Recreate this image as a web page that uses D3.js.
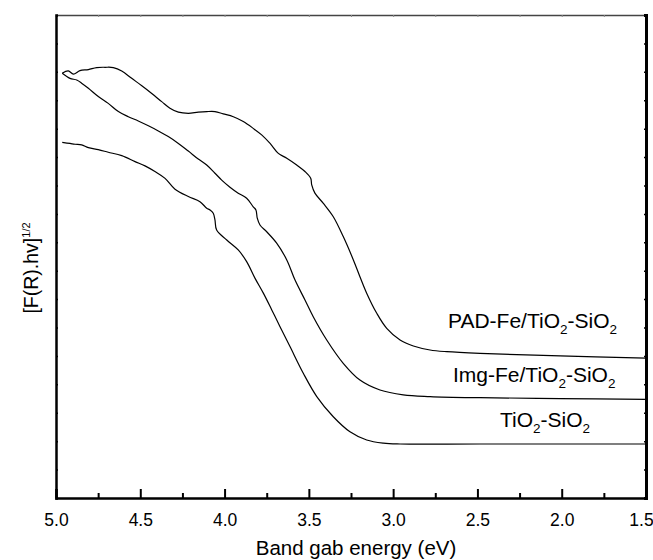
<!DOCTYPE html>
<html>
<head>
<meta charset="utf-8">
<script src="https://cdn.jsdelivr.net/npm/d3@7"></script>
<style>
  body { margin: 0; background: #fff; }
  svg { display: block; font-family: "Liberation Sans", Arial, sans-serif; }
</style>
</head>
<body>
<svg id="chart" width="653" height="560"></svg>
<script>
// photon energy (eV) and [F(R).hv]^1/2, arbitrary units
var padEnergy = [4.963, 4.927, 4.897, 4.858, 4.808, 4.759, 4.709, 4.660, 4.610, 4.551, 4.491, 4.432, 4.373, 4.324, 4.274, 4.215, 4.156, 4.106, 4.057, 4.008, 3.948, 3.889, 3.830, 3.780, 3.730, 3.681, 3.631, 3.572, 3.523, 3.489, 3.483, 3.464, 3.414, 3.355, 3.296, 3.236, 3.197, 3.157, 3.098, 3.038, 2.959, 2.880, 2.781, 2.682, 2.485, 2.010, 1.500];
var padValue  = [14.95, 15.03, 14.92, 15.04, 15.08, 15.15, 15.16, 15.15, 15.03, 14.77, 14.51, 14.24, 13.95, 13.72, 13.58, 13.54, 13.58, 13.60, 13.60, 13.52, 13.42, 13.25, 13.01, 12.78, 12.48, 12.13, 11.96, 11.72, 11.49, 11.25, 11.02, 10.73, 10.37, 9.90, 9.20, 8.38, 7.79, 7.21, 6.51, 5.97, 5.56, 5.35, 5.21, 5.15, 5.09, 5.00, 4.92];

var imgEnergy = [4.963, 4.917, 4.877, 4.848, 4.808, 4.749, 4.690, 4.630, 4.571, 4.512, 4.452, 4.393, 4.334, 4.274, 4.215, 4.156, 4.106, 4.057, 4.017, 3.968, 3.919, 3.869, 3.830, 3.814, 3.806, 3.790, 3.750, 3.691, 3.631, 3.582, 3.523, 3.474, 3.394, 3.296, 3.197, 3.078, 2.940, 2.781, 2.485, 2.010, 1.500];
var imgValue  = [14.95, 14.77, 14.71, 14.60, 14.42, 14.13, 13.89, 13.60, 13.42, 13.27, 13.10, 12.92, 12.72, 12.48, 12.21, 11.93, 11.72, 11.43, 11.19, 10.94, 10.73, 10.55, 10.25, 10.14, 9.85, 9.61, 9.37, 8.97, 8.38, 7.67, 6.97, 6.38, 5.56, 4.74, 4.15, 3.80, 3.63, 3.57, 3.53, 3.50, 3.47];

var tsEnergy = [4.963, 4.917, 4.887, 4.848, 4.808, 4.749, 4.690, 4.610, 4.531, 4.472, 4.413, 4.353, 4.294, 4.215, 4.146, 4.106, 4.086, 4.067, 4.057, 4.047, 3.987, 3.919, 3.869, 3.819, 3.770, 3.720, 3.671, 3.612, 3.533, 3.453, 3.355, 3.256, 3.157, 3.058, 2.959, 2.485, 1.500];
var tsValue  = [12.52, 12.48, 12.45, 12.43, 12.33, 12.26, 12.17, 12.05, 11.84, 11.69, 11.49, 11.25, 10.87, 10.61, 10.43, 10.20, 10.14, 10.02, 9.79, 9.43, 9.08, 8.73, 8.32, 7.73, 7.21, 6.62, 6.03, 5.33, 4.39, 3.57, 2.86, 2.33, 2.04, 1.93, 1.90, 1.90, 1.90];

var xTickLabels = [5.0, 4.5, 4.0, 3.5, 3.0, 2.5, 2.0, 1.5];

var seriesNames = [
    { name: "PAD-Fe/TiO", rest: "-SiO", x: 448, y: 328 },
    { name: "Img-Fe/TiO", rest: "-SiO", x: 453, y: 382 },
    { name: "TiO", rest: "-SiO", x: 500, y: 427 }
];

var margin = { left: 56, right: 7, top: 15, bottom: 62 };
var width = 653 - margin.left - margin.right;
var height = 560 - margin.top - margin.bottom;

var svg = d3.select("#chart");
var g = svg.append("g").attr("transform", `translate(${margin.left},${margin.top})`);

var x = d3.scaleLinear().domain([5.0, 1.5]).range([0, width]);
var y = d3.scaleLinear().domain([0, 17]).range([height, 0]);

var line = d3.line()
    .x(d => x(d[0]))
    .y(d => y(d[1]))
    .curve(d3.curveCatmullRom.alpha(0.5));

function pairs(a, b) {
    return a.map((v, i) => [v, b[i]]);
}

var curves = [pairs(padEnergy, padValue), pairs(imgEnergy, imgValue), pairs(tsEnergy, tsValue)];

g.selectAll("path.curve")
    .data(curves)
    .enter()
    .append("path")
    .attr("class", "curve")
    .attr("d", line)
    .attr("fill", "none")
    .attr("stroke", "#000")
    .attr("stroke-width", 1.2)
    .attr("stroke-linejoin", "round");

// minor tick values every 0.25 eV / 1 unit
var xMinor = d3.range(4.75, 1.5, -0.5);
var yMinor = d3.range(1, 17, 1);

// bottom axis
var xAxis = g.append("g").attr("transform", `translate(0,${height})`)
    .call(d3.axisBottom(x).tickValues(xTickLabels).tickSize(-9).tickPadding(16).tickFormat(d3.format(".1f")));
xAxis.select(".domain").attr("stroke-width", 2.5);
xAxis.selectAll(".tick line").attr("stroke-width", 2);
xAxis.selectAll("text")
    .attr("font-size", 17.5)
    .attr("fill", "#000")
    .attr("font-family", "Liberation Sans, Arial, sans-serif")
    .attr("dx", d => d === 1.5 ? -5 : 0);
g.append("g").attr("transform", `translate(0,${height})`)
    .call(d3.axisBottom(x).tickValues(xMinor).tickSize(-5).tickFormat(""))
    .call(a => a.select(".domain").remove())
    .selectAll(".tick line").attr("stroke-width", 2);

// top axis
var xTop = g.append("g")
    .call(d3.axisTop(x).tickValues(xMinor.concat(xTickLabels)).tickSize(-2).tickFormat(""));
xTop.select(".domain").attr("stroke", "#444").attr("stroke-width", 1.5);
xTop.selectAll(".tick line").attr("stroke", "#888");

// left axis
var yLeft = g.append("g")
    .call(d3.axisLeft(y).tickValues(yMinor).tickSize(-2).tickFormat(""));
yLeft.select(".domain").attr("stroke-width", 2.5);
yLeft.selectAll(".tick line").attr("stroke-width", 1.5);

// right axis
var yRight = g.append("g").attr("transform", `translate(${width},0)`)
    .call(d3.axisRight(y).tickValues(yMinor).tickSize(-2).tickFormat(""));
yRight.select(".domain").attr("stroke-width", 3);
yRight.selectAll(".tick line").attr("stroke-width", 1.5);

// series labels
var labels = svg.selectAll("text.series")
    .data(seriesNames)
    .enter()
    .append("text")
    .attr("class", "series")
    .attr("x", d => d.x)
    .attr("y", d => d.y)
    .attr("font-size", 21)
    .attr("fill", "#000");
labels.append("tspan").text(d => d.name);
labels.append("tspan").attr("dy", 6).attr("font-size", 13.5).text("2");
labels.append("tspan").attr("dy", -6).text(d => d.rest);
labels.append("tspan").attr("dy", 6).attr("font-size", 13.5).text("2");

// axis titles
svg.append("text")
    .attr("x", margin.left + width / 2 + 5)
    .attr("y", 555)
    .attr("text-anchor", "middle")
    .attr("font-size", 20.5)
    .text("Band gab energy (eV)");

var yTitle = svg.append("text")
    .attr("transform", "translate(38,268) rotate(-90)")
    .attr("text-anchor", "middle")
    .attr("font-size", 19.5);
yTitle.append("tspan").text("[F(R).hv]");
yTitle.append("tspan").attr("dy", -8).attr("font-size", 11).text("1/2");
</script>
</body>
</html>
